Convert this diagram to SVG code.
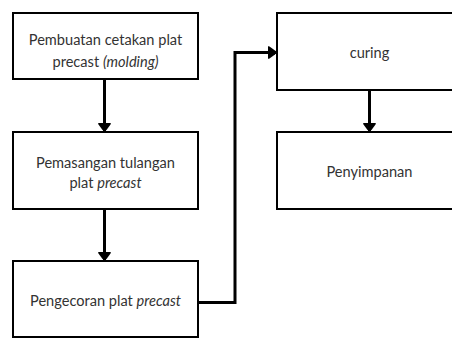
<svg xmlns="http://www.w3.org/2000/svg" width="452" height="338" viewBox="0 0 452 338">
<style>
.box{fill:#fff;stroke:#000;stroke-width:2}
.t{font-family:Lato,"Liberation Sans",sans-serif;font-size:14.6px;fill:#333;text-anchor:middle}
.i{font-style:italic}
.c{fill:none;stroke:#000;stroke-width:3}
</style>
<defs>
<marker id="ah" viewBox="0 0 9 15" refX="8.5" refY="7.5" markerWidth="3" markerHeight="5" orient="auto" markerUnits="strokeWidth">
<path d="M0,3 Q0,0.5 2,1.5 L7.5,5.5 Q9,7.5 7.5,9.5 L2,13.5 Q0,14.5 0,12 Z" fill="#000"/>
</marker>
</defs>
<rect width="452" height="338" fill="#fff"/>
<g id="connectors">
<path class="c" d="M104.5,79 V131" marker-end="url(#ah)"/>
<path class="c" d="M104.5,209 V260" marker-end="url(#ah)"/>
<path class="c" d="M198,302.5 H235 V52.5 H276" marker-end="url(#ah)"/>
<path class="c" d="M369.5,90 V131" marker-end="url(#ah)"/>
</g>
<g id="n1">
<rect class="box" x="13" y="13" width="185" height="66"/>
<text class="t" x="105.5" y="45">Pembuatan cetakan plat</text>
<text class="t" x="105.5" y="67">precast <tspan class="i">(molding)</tspan></text>
</g>
<g id="n2">
<rect class="box" x="13" y="132" width="185" height="77"/>
<text class="t" x="105.5" y="168">Pemasangan tulangan</text>
<text class="t" x="105.5" y="188">plat <tspan class="i">precast</tspan></text>
</g>
<g id="n3">
<rect class="box" x="13" y="261" width="185" height="76"/>
<text class="t" x="105.5" y="306">Pengecoran plat <tspan class="i">precast</tspan></text>
</g>
<g id="n4">
<rect class="box" x="277" y="13" width="185" height="77"/>
<text class="t" x="369.5" y="58">curing</text>
</g>
<g id="n5">
<rect class="box" x="277" y="132" width="185" height="77"/>
<text class="t" x="369.5" y="177">Penyimpanan</text>
</g>
</svg>
